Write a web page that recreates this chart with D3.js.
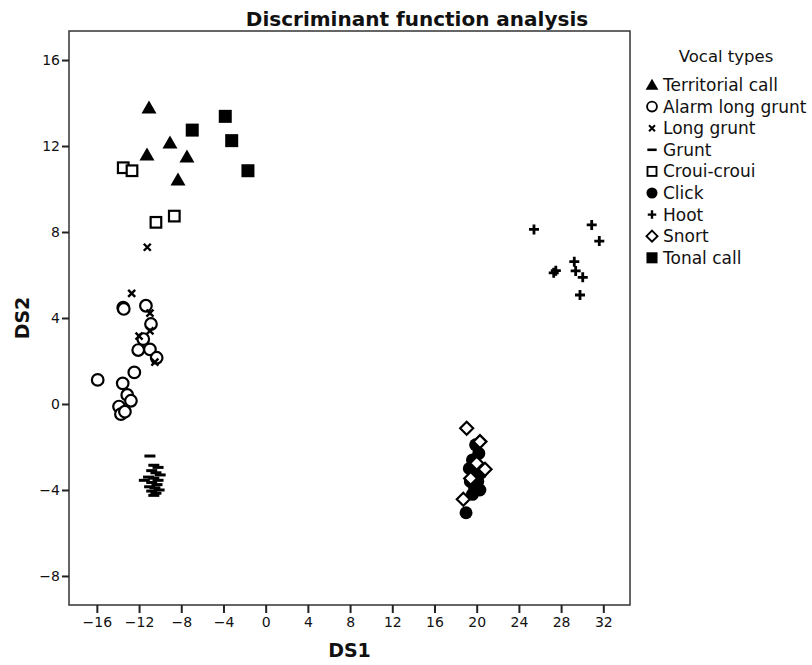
<!DOCTYPE html>
<html>
<head>
<meta charset="utf-8">
<script src="https://cdn.jsdelivr.net/npm/d3@7"></script>
<style>
  body { margin: 0; background: #fff; }
  svg text { font-family: "DejaVu Sans", sans-serif; fill: #111; }
</style>
</head>
<body>
<svg id="chart"></svg>
<script>
// Vocal type groups, in legend order
const groups = ["Territorial call", "Alarm long grunt", "Long grunt", "Grunt", "Croui-croui", "Click", "Hoot", "Snort", "Tonal call"];

// DS1 / DS2 scores
const territorialCall = [[-11.06, 13.77], [-9.07, 12.14], [-11.25, 11.58], [-7.46, 11.49], [-8.31, 10.42]];
const alarmLongGrunt = [[-13.5, 4.48], [-13.45, 4.42], [-11.35, 4.57], [-10.87, 3.72], [-11.6, 3.02], [-12.08, 2.51],
  [-10.97, 2.54], [-10.33, 2.15], [-12.45, 1.47], [-15.92, 1.12], [-13.55, 0.96], [-13.12, 0.42],
  [-12.77, 0.15], [-13.9, -0.12], [-13.72, -0.47], [-13.34, -0.36]];
const longGrunt = [[-11.22, 7.29], [-12.7, 5.15], [-10.97, 4.23], [-10.97, 3.4], [-12.0, 3.16], [-10.5, 1.95]];
const grunt = [[-10.97, -2.42], [-10.6, -2.85], [-10.2, -2.95], [-10.8, -3.1], [-10.4, -3.2], [-10.0, -3.3],
  [-11.1, -3.4], [-10.6, -3.45], [-10.2, -3.55], [-11.5, -3.55], [-10.8, -3.65], [-10.3, -3.75],
  [-11.0, -3.85], [-10.5, -3.9], [-10.1, -4.0], [-10.8, -4.05], [-10.4, -4.15], [-10.6, -4.25]];
const crouiCroui = [[-13.5, 10.99], [-12.67, 10.85], [-10.4, 8.45], [-8.66, 8.74]];
const click = [[19.9, -1.9], [20.2, -2.3], [19.6, -2.6], [20.0, -2.9], [19.3, -3.0], [20.4, -3.2], [19.7, -3.3],
  [19.4, -3.6], [20.1, -3.6], [19.8, -3.9], [20.3, -4.0], [19.6, -4.2], [18.99, -5.06]];
const hoot = [[25.43, 8.12], [30.9, 8.33], [31.62, 7.58], [27.3, 6.1], [27.5, 6.2], [29.25, 6.62],
  [29.38, 6.19], [30.05, 5.89], [29.79, 5.07]];
const snort = [[19.05, -1.13], [20.31, -1.75], [20.0, -2.76], [20.79, -3.04], [19.43, -3.46], [18.73, -4.43]];
const tonalCall = [[-3.83, 13.38], [-6.96, 12.74], [-3.22, 12.25], [-1.68, 10.85]];

const seriesData = [territorialCall, alarmLongGrunt, longGrunt, grunt, crouiCroui, click, hoot, snort, tonalCall];

const xTicks = [-16, -12, -8, -4, 0, 4, 8, 12, 16, 20, 24, 28, 32];
const yTicks = [-8, -4, 0, 4, 8, 12, 16];

const width = 812, height = 665;
const plot = { left: 69, right: 630, top: 31, bottom: 605 };

const svg = d3.select("#chart").attr("width", width).attr("height", height);

const xScale = d3.scaleLinear().domain([-18.64, 34.53]).range([plot.left, plot.right]);
const yScale = d3.scaleLinear().domain([-9.35, 17.35]).range([plot.bottom, plot.top]);

// marker shapes, one per group (same order as groups)
const markers = [
  { shape: "triangle" },
  { shape: "circle" },
  { shape: "times" },
  { shape: "dash" },
  { shape: "square" },
  { shape: "dot" },
  { shape: "plus" },
  { shape: "diamond" },
  { shape: "bigsquare" }
];

function drawMarker(g, m) {
  switch (m.shape) {
    case "triangle":
      g.append("path").attr("d", "M0,-7.5L7.5,5.5L-7.5,5.5Z").attr("fill", "#000");
      break;
    case "circle":
      g.append("circle").attr("r", 5.8).attr("fill", "#fff").attr("stroke", "#000").attr("stroke-width", 2.2);
      break;
    case "times":
      g.append("path").attr("d", "M-3.5,-3.5L3.5,3.5M-3.5,3.5L3.5,-3.5").attr("stroke", "#000").attr("stroke-width", 2.4);
      break;
    case "dash":
      g.append("path").attr("d", "M-5.5,0L5.5,0").attr("stroke", "#000").attr("stroke-width", 3);
      break;
    case "square":
      g.append("rect").attr("x", -5.3).attr("y", -5.3).attr("width", 10.6).attr("height", 10.6)
        .attr("fill", "#fff").attr("stroke", "#000").attr("stroke-width", 2.2);
      break;
    case "dot":
      g.append("circle").attr("r", 6.5).attr("fill", "#000");
      break;
    case "plus":
      g.append("path").attr("d", "M-5,0L5,0M0,-5L0,5").attr("stroke", "#000").attr("stroke-width", 2.8);
      break;
    case "diamond":
      g.append("path").attr("d", "M0,-6.5L6.5,0L0,6.5L-6.5,0Z").attr("fill", "#fff")
        .attr("stroke", "#000").attr("stroke-width", 2.2);
      break;
    case "bigsquare":
      g.append("rect").attr("x", -6.5).attr("y", -6.5).attr("width", 13).attr("height", 13).attr("fill", "#000");
      break;
  }
}

// Title
svg.append("text")
  .attr("x", 417).attr("y", 26)
  .attr("text-anchor", "middle")
  .style("font-size", "20px").style("font-weight", "bold")
  .text("Discriminant function analysis");

// Frame
svg.append("rect")
  .attr("x", plot.left).attr("y", plot.top)
  .attr("width", plot.right - plot.left).attr("height", plot.bottom - plot.top)
  .attr("fill", "none").attr("stroke", "#333").attr("stroke-width", 1.5);

const minusFmt = d => d < 0 ? "\u2212" + Math.abs(d) : d;

// X axis
const xAxis = svg.append("g")
  .attr("transform", `translate(0, ${plot.bottom})`)
  .call(d3.axisBottom(xScale).tickValues(xTicks).tickSize(8).tickPadding(4).tickFormat(minusFmt));
xAxis.select(".domain").remove();
xAxis.selectAll("line").attr("stroke", "#222").attr("stroke-width", 2);
xAxis.selectAll("text").style("font-size", "14px").style("font-family", "DejaVu Sans, sans-serif").attr("fill", "#222");

// Y axis
const yAxis = svg.append("g")
  .attr("transform", `translate(${plot.left}, 0)`)
  .call(d3.axisLeft(yScale).tickValues(yTicks).tickSize(7).tickPadding(2).tickFormat(minusFmt));
yAxis.select(".domain").remove();
yAxis.selectAll("line").attr("stroke", "#222").attr("stroke-width", 2);
yAxis.selectAll("text").style("font-size", "14px").style("font-family", "DejaVu Sans, sans-serif").attr("fill", "#222");

// Axis titles
svg.append("text")
  .attr("x", (plot.left + plot.right) / 2).attr("y", 657)
  .attr("text-anchor", "middle")
  .style("font-size", "19px").style("font-weight", "bold")
  .text("DS1");

svg.append("text")
  .attr("transform", `translate(29, ${(plot.top + plot.bottom) / 2}) rotate(-90)`)
  .attr("text-anchor", "middle")
  .style("font-size", "19px").style("font-weight", "bold")
  .text("DS2");

// Points, drawn in legend order
const pointsLayer = svg.append("g");
seriesData.forEach((pts, i) => {
  pts.forEach(p => {
    const g = pointsLayer.append("g")
      .attr("transform", `translate(${xScale(p[0])}, ${yScale(p[1])})`);
    drawMarker(g, markers[i]);
  });
});

// Legend
const legend = svg.append("g");
legend.append("text")
  .attr("x", 726).attr("y", 62)
  .attr("text-anchor", "middle")
  .style("font-size", "16.5px")
  .text("Vocal types");

groups.forEach((name, i) => {
  const row = legend.append("g").attr("transform", `translate(652, ${85 + i * 21.6})`);
  const sym = row.append("g").attr("transform", "scale(0.85)");
  drawMarker(sym, markers[i]);
  row.append("text")
    .attr("x", 11).attr("y", 6)
    .style("font-size", "17px")
    .text(name);
});
</script>
</body>
</html>
